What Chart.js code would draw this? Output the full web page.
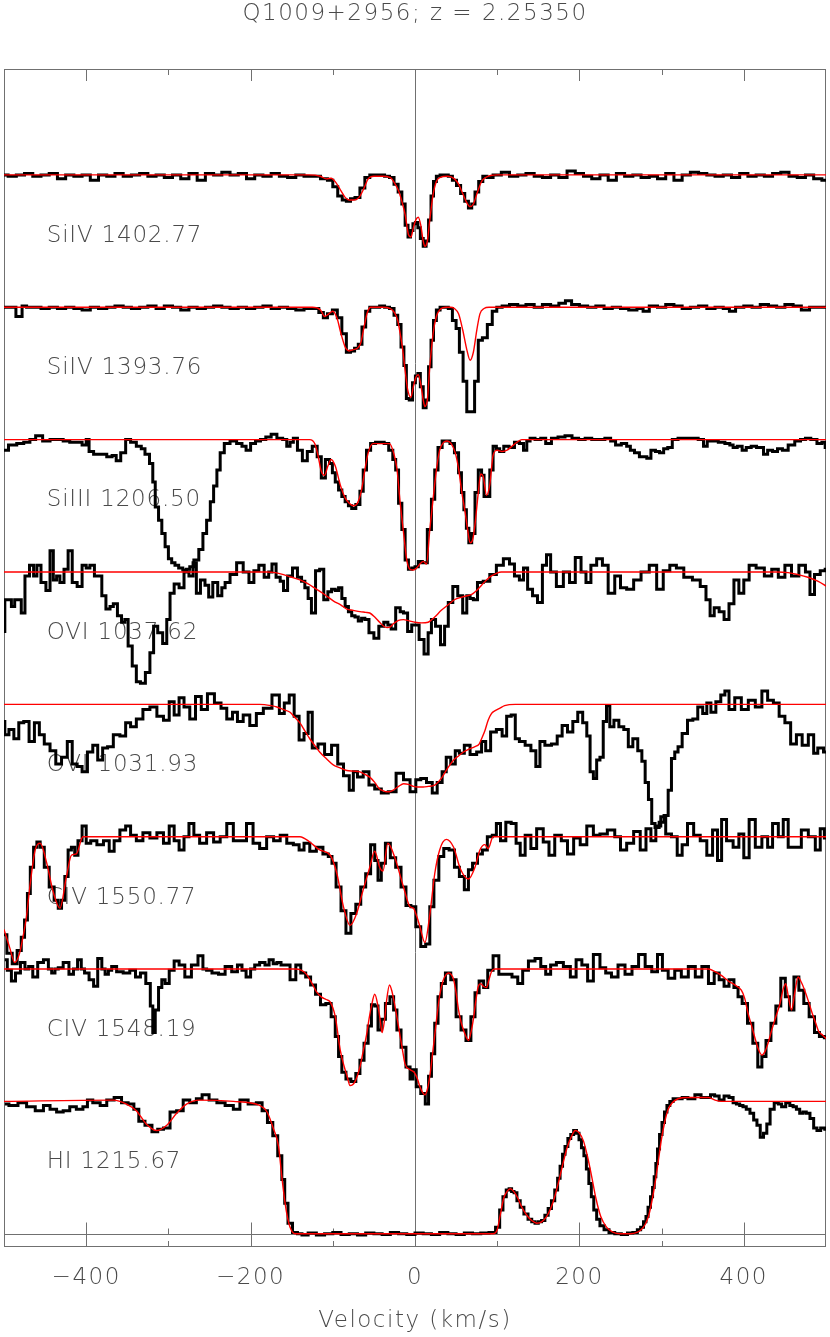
<!DOCTYPE html>
<html lang="en">
<head>
  <meta charset="UTF-8" />
  <title>Q1009+2956 velocity plot</title>
  <script src="https://cdn.jsdelivr.net/npm/chart.js"></script>
  <style>
    body {
      margin: 0;
      background: #ffffff;
    }
    #wrap {
      width: 830px;
      height: 1337px;
    }
  </style>
</head>
<body>

<div id="wrap">
  <canvas id="velChart" width="830" height="1337"></canvas>
</div>

<script>
  // line labels and vertical offsets (top to bottom)
  const lineNames = ['SiIV 1402.77', 'SiIV 1393.76', 'SiIII 1206.50', 'OVI 1037.62',
                     'OVI 1031.93', 'CIV 1550.77', 'CIV 1548.19', 'HI 1215.67'];
  const offsets = [7, 6, 5, 4, 3, 2, 1, 0];
  const tickLabelValues = [-400, -200, 0, 200, 400];
  const tickMarkValues = [-400, -300, -200, -100, 0, 100, 200, 300, 400];

  // SiIV 1402.77
  const siiv1402V = [-500,-490,-480,-470,-460,-450,-440,-430,-420,-410,
    -400,-390,-380,-370,-360,-350,-340,-330,-320,-310,
    -300,-290,-280,-270,-260,-250,-240,-230,-220,-210,
    -200,-190,-180,-170,-160,-150,-140,-130,-120,-110,
    -103,-97,-91,-86,-81,-76,-70,-64,-58,-52,
    -46,-40,-34,-28,-23,-18,-14,-10,-7,-4,
    -1,2,5,8,12,15,18,21,24,28,
    33,38,43,48,53,58,63,67,71,75,
    80,85,90,100,110,120,130,140,150,160,
    170,180,190,200,210,220,230,240,250,260,
    270,280,290,300,310,320,330,340,350,360,
    370,380,390,400,410,420,430,440,450,460,
    470,480,490,500];
  const siiv1402F = [1.0,0.99,1.0,1.01,0.99,1.0,1.01,0.97,1.0,0.99,
    1.0,0.96,1.0,0.99,1.01,0.99,1.0,1.01,0.99,1.0,
    0.98,1.0,0.97,1.01,0.96,1.01,1.0,1.02,1.0,1.01,
    0.97,1.0,0.99,1.01,0.99,0.98,1.0,0.99,0.99,0.97,
    0.96,0.91,0.84,0.81,0.8,0.82,0.83,0.9,0.98,1.0,
    1.0,1.0,0.99,0.98,0.93,0.87,0.78,0.62,0.53,0.58,
    0.63,0.64,0.6,0.52,0.46,0.5,0.66,0.84,0.95,0.99,
    1.0,1.0,0.99,0.96,0.92,0.86,0.8,0.75,0.78,0.87,
    0.95,0.99,0.98,1.0,1.02,0.99,1.0,1.01,0.99,0.98,
    1.0,0.98,1.03,1.01,0.99,0.97,1.0,0.96,1.01,0.99,
    1.0,0.98,0.99,0.97,1.01,0.96,1.0,1.02,1.01,1.0,
    0.99,1.0,0.98,1.01,0.99,1.0,0.99,1.01,1.02,0.99,
    0.98,1.0,0.97,0.96];
  const siiv1402MV = [-500,-130,-115,-108,-102,-96,-90,-85,-80,-74,
    -68,-62,-57,-50,-40,-30,-25,-20,-16,-12,
    -8,-5,-2,1,4,7,10,12,15,18,
    22,26,30,40,48,53,58,63,67,71,
    76,81,86,92,100,500];
  const siiv1402MF = [1,1,0.99,0.97,0.975,0.94,0.88,0.83,0.81,0.81,
    0.83,0.9,0.97,0.99,0.99,0.98,0.94,0.88,0.8,0.7,
    0.55,0.53,0.6,0.66,0.68,0.62,0.5,0.46,0.5,0.66,
    0.85,0.95,0.98,0.99,0.97,0.93,0.86,0.79,0.76,0.78,
    0.87,0.95,0.98,0.995,1,1];

  // SiIV 1393.76
  const siiv1393V = [-500,-490,-481,-475,-470,-460,-450,-440,-430,-420,
    -410,-400,-390,-380,-370,-360,-350,-340,-330,-320,
    -310,-300,-290,-280,-270,-260,-250,-240,-230,-220,
    -210,-200,-190,-180,-170,-160,-150,-140,-130,-120,
    -114,-109,-104,-97,-92,-86,-81,-76,-71,-67,
    -62,-58,-52,-46,-40,-34,-28,-23,-19,-15,
    -12,-9,-5,-1,2,5,8,12,15,18,
    21,24,28,33,38,43,48,52,56,61,
    65,70,75,79,85,91,97,102,110,120,
    130,140,150,160,170,180,186,195,205,215,
    225,235,245,255,265,275,280,290,300,310,
    320,330,340,350,360,370,380,385,395,405,
    415,425,435,445,455,465,475,485,495,500];
  const siiv1393F = [1.0,1.0,0.93,1.01,1.0,1.0,0.99,1.0,0.99,1.0,
    0.99,0.98,1.0,0.99,1.0,1.01,1.0,0.99,1.0,1.01,
    0.99,1.01,1.0,0.98,1.0,0.99,1.0,1.01,1.0,0.99,
    1.0,0.99,1.0,1.01,0.99,1.0,0.99,0.98,0.99,0.99,
    0.96,0.92,0.95,0.98,0.92,0.8,0.66,0.67,0.69,0.72,
    0.85,0.97,1.0,1.0,1.01,1.0,0.99,0.94,0.87,0.7,
    0.56,0.31,0.3,0.43,0.48,0.5,0.4,0.24,0.3,0.55,
    0.75,0.9,0.98,1.0,1.0,0.99,0.9,0.84,0.66,0.44,
    0.21,0.21,0.44,0.75,0.77,0.87,0.97,1.0,1.01,1.02,
    1.01,1.02,1.0,1.02,1.01,1.03,1.05,1.02,1.01,1.0,
    1.01,0.99,1.0,0.99,0.98,0.99,0.97,1.01,1.0,1.02,
    1.01,0.99,1.0,1.01,0.99,1.0,0.99,0.97,1.0,1.01,
    1.0,1.02,1.01,1.0,1.02,1.01,0.98,1.0,1.0,1.0];
  const siiv1393MV = [-500,-125,-115,-110,-105,-100,-95,-90,-85,-80,
    -75,-70,-66,-62,-58,-54,-40,-30,-25,-21,
    -18,-15,-12,-9,-5,-2,1,4,7,10,
    12,15,18,22,26,30,38,43,48,53,
    58,63,67,71,75,79,84,90,500];
  const siiv1393MF = [1,1,0.98,0.93,0.95,0.97,0.92,0.8,0.7,0.67,
    0.68,0.69,0.73,0.85,0.96,1.0,1.0,0.99,0.96,0.9,
    0.8,0.68,0.52,0.38,0.32,0.4,0.47,0.49,0.42,0.3,
    0.25,0.3,0.55,0.8,0.93,0.98,1.0,1.0,0.99,0.95,
    0.83,0.68,0.6,0.66,0.82,0.95,0.99,1.0,1.0];

  // SiIII 1206.50
  const siiiiV = [-500,-489,-480,-472,-465,-458,-448,-440,-432,-424,
    -416,-408,-402,-398,-395,-387,-379,-371,-366,-361,
    -355,-349,-343,-335,-331,-326,-320,-318,-314,-310,
    -306,-302,-298,-294,-290,-285,-280,-276,-272,-266,
    -260,-256,-251,-247,-243,-239,-235,-229,-221,-213,
    -208,-203,-197,-191,-185,-178,-172,-164,-158,-154,
    -150,-146,-140,-134,-128,-122,-116,-112,-106,-102,
    -99,-95,-91,-87,-83,-79,-75,-69,-65,-61,
    -57,-51,-45,-40,-35,-29,-25,-22,-18,-14,
    -10,-6,-2,2,6,12,18,22,26,30,
    36,40,45,51,55,58,61,64,67,71,
    75,79,83,85,89,93,97,101,105,111,
    118,124,130,134,138,142,150,156,162,170,
    178,187,195,203,211,219,227,235,241,247,
    255,260,264,270,276,280,284,290,295,300,
    305,310,316,324,332,340,349,353,358,365,
    373,381,385,389,395,401,405,413,418,422,
    426,432,438,444,450,458,466,472,478,485,
    493,497,501];
  const siiiiF = [0.92,0.96,0.97,0.98,1.0,1.03,0.99,1.0,1.0,0.99,
    0.98,0.98,0.96,1.0,0.91,0.89,0.89,0.87,0.88,0.84,
    0.9,1.0,0.98,0.95,0.93,0.89,0.82,0.68,0.49,0.39,
    0.29,0.19,0.1,0.07,0.05,0.03,0.015,0.02,0.04,0.09,
    0.17,0.29,0.39,0.53,0.65,0.77,0.9,0.97,0.99,0.97,
    0.95,0.92,0.97,0.99,1.0,1.02,1.04,1.01,1.0,0.95,
    0.98,1.01,0.92,0.84,0.91,0.95,0.87,0.71,0.85,0.82,
    0.75,0.68,0.62,0.57,0.53,0.5,0.48,0.51,0.61,0.77,
    0.92,0.97,0.98,0.98,0.97,0.92,0.85,0.77,0.52,0.32,
    0.09,0.02,0.03,0.04,0.08,0.07,0.32,0.55,0.77,0.94,
    0.99,0.99,0.97,0.9,0.75,0.6,0.47,0.33,0.22,0.29,
    0.6,0.77,0.73,0.57,0.57,0.77,0.95,0.93,0.91,0.95,
    0.94,0.98,0.97,0.92,0.99,1.01,1.0,1.01,0.97,1.01,
    1.02,1.03,1.01,1.0,1.01,1.0,1.0,1.01,0.99,0.96,
    0.97,0.95,0.92,0.9,0.87,0.87,0.86,0.92,0.91,0.9,
    0.93,0.94,1.0,1.01,1.01,1.01,1.0,0.95,0.99,0.99,
    0.98,0.97,0.96,0.94,0.95,0.92,0.94,0.95,0.94,0.94,
    0.89,0.92,0.91,0.93,0.92,0.96,0.99,1.0,1.01,1.0,
    0.97,0.98,0.94];
  const siiiiMV = [-500,-128,-122,-118,-114,-110,-106,-102,-97,-91,
    -85,-80,-75,-70,-65,-61,-57,-51,-40,-31,
    -26,-22,-18,-14,-10,-6,-2,2,6,10,
    14,18,22,26,30,35,39,44,49,53,
    57,61,64,67,70,73,77,80,83,87,
    91,95,100,106,112,118,124,130,500];
  const siiiiMF = [1,1,0.97,0.88,0.76,0.73,0.8,0.85,0.8,0.66,
    0.56,0.52,0.5,0.52,0.62,0.77,0.9,0.97,0.97,0.97,
    0.9,0.78,0.52,0.3,0.09,0.02,0.015,0.03,0.06,0.08,
    0.06,0.32,0.55,0.77,0.92,0.98,0.99,0.97,0.9,0.78,
    0.6,0.45,0.32,0.22,0.24,0.36,0.6,0.74,0.72,0.58,
    0.66,0.88,0.92,0.91,0.92,0.95,0.98,1,1];

  // OVI 1037.62
  const ovi1037V = [-501,-497,-493,-489,-485,-481,-477,-472,-466,-462,
    -458,-452,-446,-442,-438,-434,-430,-424,-420,-414,
    -408,-402,-398,-393,-387,-383,-379,-373,-369,-365,
    -359,-355,-351,-347,-341,-337,-331,-325,-320,-316,
    -310,-304,-300,-296,-290,-284,-278,-272,-268,-264,
    -258,-253,-249,-243,-237,-233,-229,-221,-213,-205,
    -199,-193,-187,-180,-176,-172,-166,-162,-158,-152,
    -146,-140,-136,-132,-128,-124,-118,-114,-108,-104,
    -99,-95,-91,-87,-83,-79,-75,-71,-67,-63,
    -59,-53,-47,-41,-35,-31,-27,-20,-16,-12,
    -6,-2,2,8,14,18,22,28,34,38,
    43,49,55,61,65,69,73,79,87,95,
    103,112,118,124,130,134,140,146,152,158,
    162,168,176,185,191,199,205,211,217,225,
    231,239,247,253,262,270,280,290,298,306,
    314,322,332,343,351,357,361,367,373,379,
    385,391,397,403,410,420,430,438,446,454,
    462,472,478,483,489,497,501];
  const ovi1037F = [0.55,0.79,0.79,0.74,0.79,0.79,0.69,0.97,1.05,0.97,
    1.05,0.92,0.86,1.16,0.94,0.97,0.92,1.02,1.16,0.92,
    0.89,1.05,1.03,1.05,0.97,0.97,0.82,0.72,0.74,0.76,
    0.67,0.62,0.64,0.44,0.29,0.17,0.16,0.24,0.39,0.59,
    0.54,0.46,0.64,0.84,0.91,0.88,1.0,0.97,1.07,0.84,
    0.94,0.9,0.81,0.92,0.82,0.88,0.92,0.98,1.07,1.0,
    0.92,1.01,1.05,0.96,1.0,1.06,0.96,0.93,0.86,0.97,
    1.03,0.96,0.93,0.88,0.8,0.69,1.01,1.02,0.79,0.85,
    0.87,0.86,0.88,0.8,0.74,0.7,0.67,0.66,0.63,0.65,
    0.64,0.54,0.5,0.59,0.62,0.6,0.57,0.73,0.7,0.69,
    0.55,0.6,0.6,0.49,0.38,0.54,0.64,0.59,0.45,0.59,
    0.77,0.89,0.82,0.69,0.82,0.8,0.79,0.92,0.93,0.98,
    1.05,1.1,1.06,0.97,0.94,1.03,0.87,0.82,0.77,1.05,
    1.13,1.0,0.89,1.0,0.92,1.11,1.0,0.92,1.05,1.1,
    1.05,0.84,0.97,0.88,0.87,0.94,1.0,1.05,0.87,1.01,
    1.05,1.03,0.96,0.94,0.89,0.79,0.67,0.73,0.7,0.64,
    0.76,0.94,0.84,0.94,1.05,1.03,0.97,1.02,0.96,1.05,
    0.97,1.05,1.0,0.83,0.98,1.01,1.02];
  const ovi1037MV = [-500,-180,-170,-160,-150,-140,-130,-120,-110,-99,
    -90,-83,-75,-67,-60,-55,-49,-43,-38,-34,
    -30,-26,-20,-14,-7,0,8,16,24,32,
    40,48,57,63,69,75,81,87,93,99,
    105,114,440,454,466,478,490,501];
  const ovi1037MF = [1,1,0.995,0.98,0.96,0.94,0.91,0.87,0.83,0.78,
    0.75,0.72,0.71,0.7,0.695,0.69,0.66,0.62,0.59,0.58,
    0.585,0.61,0.635,0.64,0.63,0.62,0.615,0.62,0.66,0.71,
    0.75,0.79,0.81,0.82,0.83,0.86,0.9,0.94,0.97,0.99,
    1,1,1,0.995,0.98,0.96,0.93,0.89];

  // OVI 1031.93
  const ovi1031V = [-501,-497,-491,-485,-479,-473,-466,-460,-454,-448,
    -440,-434,-426,-420,-414,-408,-402,-395,-389,-383,
    -377,-371,-363,-355,-349,-343,-335,-327,-318,-310,
    -302,-296,-290,-284,-278,-270,-264,-256,-249,-239,
    -233,-225,-219,-213,-205,-197,-189,-180,-168,-162,
    -156,-150,-144,-138,-132,-128,-122,-114,-106,-97,
    -91,-83,-77,-73,-67,-59,-53,-45,-37,-28,
    -18,-10,-2,4,10,18,24,30,36,40,
    47,51,57,63,71,79,83,89,95,103,
    109,114,120,124,130,138,144,150,154,162,
    170,176,182,189,195,201,207,211,215,219,
    223,227,231,235,239,245,251,257,262,268,
    274,278,282,286,290,294,300,306,310,314,
    318,322,328,335,341,347,353,357,363,369,
    375,379,385,393,401,410,418,426,432,440,
    446,454,460,468,474,483,487,493,501];
  const ovi1031F = [0.87,0.77,0.81,0.74,0.86,0.87,0.72,0.86,0.77,0.7,
    0.65,0.55,0.6,0.72,0.55,0.53,0.49,0.64,0.69,0.58,
    0.67,0.68,0.77,0.76,0.86,0.83,0.89,0.96,0.98,0.91,
    0.88,1.02,0.92,1.05,0.98,0.89,1.06,0.96,1.08,1.01,
    0.97,0.89,0.94,0.87,0.92,0.84,0.93,0.97,1.07,0.93,
    1.01,1.07,0.91,0.73,0.78,0.94,0.67,0.7,0.62,0.69,
    0.55,0.46,0.35,0.49,0.45,0.49,0.39,0.36,0.33,0.34,
    0.48,0.43,0.34,0.43,0.44,0.41,0.33,0.41,0.49,0.6,
    0.55,0.65,0.63,0.69,0.62,0.64,0.72,0.65,0.79,0.81,
    0.76,0.91,0.92,0.74,0.72,0.69,0.65,0.53,0.72,0.69,
    0.7,0.76,0.84,0.79,0.87,0.94,0.86,0.76,0.49,0.44,
    0.58,0.6,0.87,0.99,0.83,0.88,0.83,0.81,0.68,0.74,
    0.65,0.57,0.41,0.28,0.1,0.07,0.11,0.16,0.35,0.59,
    0.64,0.68,0.78,0.88,0.89,0.98,0.93,1.01,0.94,1.02,
    1.07,1.1,0.96,1.05,0.96,1.03,0.98,1.1,1.03,1.01,
    0.91,0.86,0.7,0.77,0.69,0.77,0.63,0.67,0.64];
  const ovi1031MV = [-500,-189,-175,-168,-160,-152,-146,-140,-134,-128,
    -122,-116,-108,-99,-91,-83,-75,-67,-61,-55,
    -49,-43,-38,-35,-31,-27,-20,-14,-8,-2,
    4,10,16,24,32,40,47,53,59,65,
    73,78,81,85,89,93,97,103,109,122,
    500];
  const ovi1031MF = [1,1,0.99,0.98,0.96,0.94,0.9,0.86,0.8,0.74,
    0.69,0.64,0.59,0.54,0.52,0.5,0.495,0.49,0.47,0.45,
    0.41,0.36,0.345,0.34,0.34,0.35,0.38,0.4,0.395,0.38,
    0.375,0.375,0.38,0.39,0.44,0.52,0.58,0.61,0.64,0.66,
    0.68,0.7,0.74,0.8,0.88,0.93,0.95,0.97,0.99,1.0,
    1];

  // CIV 1550.77
  const civ1550V = [-500,-493,-487,-481,-477,-473,-470,-466,-462,-458,
    -454,-448,-442,-436,-432,-428,-424,-420,-416,-412,
    -408,-402,-398,-391,-383,-375,-369,-363,-355,-349,
    -343,-335,-327,-318,-310,-302,-296,-290,-284,-278,
    -272,-266,-258,-249,-241,-233,-225,-217,-209,-201,
    -193,-185,-176,-168,-160,-152,-144,-138,-132,-124,
    -116,-108,-103,-99,-93,-87,-81,-75,-69,-63,
    -57,-51,-47,-43,-39,-33,-27,-20,-14,-8,
    -2,4,10,16,20,26,32,38,45,51,
    57,63,67,73,79,85,91,97,101,107,
    114,120,126,130,138,144,152,160,166,174,
    182,189,197,205,213,221,229,239,247,253,
    262,270,278,284,290,296,302,308,316,322,
    328,335,343,351,359,365,371,375,383,391,
    397,403,410,418,426,432,438,446,450,458,
    466,474,483,491,495,501];
  const civ1550F = [0.26,0.12,0.04,0.14,0.24,0.37,0.57,0.77,0.92,0.96,
    0.92,0.77,0.62,0.52,0.46,0.52,0.7,0.9,0.92,0.86,
    0.97,1.08,0.95,0.97,0.94,0.97,0.89,0.97,1.05,1.08,
    1.01,0.97,1.03,0.99,1.03,0.95,1.08,0.97,0.9,1.0,
    1.1,1.01,0.95,1.03,0.96,1.0,1.1,0.97,0.97,1.1,
    0.95,0.91,1.0,0.97,1.01,0.95,0.94,0.9,0.95,0.89,
    0.92,0.87,0.85,0.8,0.62,0.44,0.27,0.42,0.49,0.62,
    0.72,0.94,0.82,0.67,0.8,0.95,0.84,0.77,0.62,0.48,
    0.47,0.32,0.17,0.19,0.47,0.67,0.85,0.91,0.9,0.77,
    0.7,0.6,0.75,0.8,0.87,0.9,1.0,1.01,1.1,0.97,
    1.11,1.1,0.95,0.86,1.01,0.91,1.06,0.96,0.86,1.01,
    0.97,0.87,0.99,0.94,1.08,1.01,1.02,1.05,1.0,0.9,
    0.95,1.04,0.9,1.06,0.97,1.08,1.15,1.02,1.0,0.86,
    0.94,1.1,1.01,0.97,0.86,1.05,0.82,1.13,0.97,0.92,
    1.02,0.84,1.13,0.92,1.0,0.92,1.1,1.0,1.13,0.92,
    0.92,1.05,1.0,0.9,1.06,0.99];
  const civ1550MV = [-500,-493,-487,-481,-477,-473,-468,-462,-456,-448,
    -440,-432,-424,-418,-412,-404,-140,-128,-116,-103,
    -95,-87,-79,-71,-63,-55,-49,-43,-39,-33,
    -25,-14,-6,-2,2,6,12,18,24,30,
    38,47,55,65,73,79,85,89,95,500];
  const civ1550MF = [0.3,0.16,0.05,0.12,0.24,0.38,0.65,0.9,0.95,0.8,
    0.58,0.46,0.7,0.86,0.87,1.0,1.0,0.96,0.9,0.86,
    0.72,0.47,0.33,0.42,0.6,0.77,0.89,0.77,0.74,0.95,
    0.85,0.62,0.47,0.46,0.4,0.32,0.2,0.41,0.72,0.9,
    0.98,0.92,0.76,0.68,0.77,0.9,0.94,0.91,1.0,1.0];

  // CIV 1548.19
  const civ1548V = [-499,-493,-489,-483,-477,-472,-468,-462,-456,-448,
    -444,-440,-436,-432,-424,-418,-413,-408,-404,-400,
    -393,-389,-383,-379,-375,-371,-367,-359,-351,-343,
    -337,-331,-324,-320,-318,-314,-310,-306,-302,-296,
    -290,-284,-276,-268,-260,-256,-251,-243,-235,-227,
    -219,-213,-208,-203,-197,-193,-185,-180,-175,-170,
    -166,-160,-156,-148,-142,-136,-130,-124,-118,-112,
    -105,-99,-95,-91,-87,-81,-75,-69,-65,-59,
    -55,-51,-47,-43,-39,-33,-28,-24,-20,-14,
    -8,-4,-1,4,10,15,18,22,26,30,
    34,40,47,53,59,65,71,75,81,86,
    91,99,105,114,122,128,134,142,150,156,
    162,168,176,185,193,199,207,213,221,229,
    235,243,251,260,268,276,284,292,298,304,
    312,320,328,337,345,353,361,367,373,379,
    385,391,395,401,408,414,420,424,430,436,
    442,448,453,458,464,470,476,483,489,495,
    501];
  const civ1548F = [1.07,0.99,0.91,0.97,1.05,1.0,1.02,0.94,1.05,1.07,
    1.0,0.97,1.0,1.01,1.05,0.96,1.0,1.07,1.0,0.97,
    0.92,0.87,1.08,1.0,0.96,0.99,1.02,0.98,0.97,0.99,
    0.94,0.97,0.89,0.72,0.52,0.69,0.86,0.92,0.89,0.99,
    1.06,1.03,0.94,1.03,1.1,1.0,0.99,0.97,0.96,1.02,
    0.98,1.03,0.99,0.94,1.0,1.03,1.05,1.03,1.07,1.04,
    1.05,1.03,1.03,0.92,1.03,0.97,0.94,0.88,0.81,0.73,
    0.74,0.64,0.49,0.34,0.22,0.17,0.15,0.21,0.31,0.44,
    0.57,0.73,0.72,0.54,0.62,0.74,0.79,0.69,0.54,0.41,
    0.26,0.17,0.24,0.11,0.06,-0.02,0.19,0.36,0.59,0.79,
    0.89,0.97,0.92,0.64,0.54,0.46,0.64,0.82,0.91,0.86,
    0.99,1.1,0.96,0.96,0.94,0.89,0.99,1.06,1.08,1.02,
    0.96,1.03,1.05,1.02,0.94,1.07,1.03,0.91,1.11,1.01,
    0.97,0.94,1.03,0.96,1.02,1.11,1.02,0.98,1.11,0.99,
    0.93,0.99,0.94,1.02,0.94,1.02,0.89,0.97,0.92,0.87,
    0.92,0.86,0.79,0.74,0.59,0.44,0.26,0.34,0.46,0.59,
    0.72,0.93,0.79,0.69,0.94,0.84,0.74,0.64,0.52,0.49,
    0.48];
  const civ1548MV = [-500,-146,-138,-132,-126,-120,-114,-108,-103,-97,
    -91,-86,-83,-79,-73,-67,-63,-59,-56,-53,
    -49,-45,-42,-40,-37,-35,-31,-28,-25,-21,
    -18,-15,-12,-6,-1,3,6,9,12,15,
    18,21,24,27,30,34,38,41,44,47,
    50,53,56,59,62,65,68,71,74,77,
    80,83,87,90,93,97,357,365,373,381,
    389,397,401,405,410,414,418,422,426,430,
    434,439,444,448,451,454,458,462,466,470,
    474,479,483,487,491,496,501];
  const civ1548MF = [1,1,0.99,0.96,0.9,0.83,0.79,0.77,0.75,0.64,
    0.39,0.26,0.2,0.12,0.15,0.26,0.38,0.5,0.62,0.72,
    0.81,0.72,0.6,0.52,0.62,0.74,0.88,0.83,0.74,0.6,
    0.49,0.38,0.28,0.24,0.22,0.17,0.11,0.07,0.05,0.09,
    0.19,0.34,0.5,0.66,0.8,0.91,0.96,0.97,0.96,0.92,
    0.82,0.69,0.6,0.54,0.49,0.46,0.52,0.62,0.76,0.87,
    0.89,0.87,0.86,0.92,0.98,1.0,1.0,0.98,0.95,0.91,
    0.88,0.84,0.78,0.67,0.56,0.47,0.39,0.35,0.38,0.45,
    0.54,0.64,0.74,0.85,0.89,0.8,0.69,0.82,0.94,0.9,
    0.84,0.75,0.67,0.6,0.53,0.5,0.47];

  // HI 1215.67
  const hiV = [-499,-489,-477,-468,-456,-448,-440,-432,-424,-416,
    -408,-400,-397,-387,-379,-371,-361,-353,-345,-339,
    -333,-324,-316,-310,-302,-294,-286,-278,-270,-262,
    -256,-245,-237,-225,-217,-209,-197,-189,-183,-176,
    -170,-164,-160,-157,-152,-146,-140,-135,-125,-115,
    -105,-95,-85,-75,-65,-55,-45,-35,-25,-15,
    -5,5,15,25,35,45,55,65,75,85,
    95,101,105,109,113,116,119,122,126,130,
    135,140,144,148,152,156,160,164,168,172,
    175,178,181,184,188,191,195,198,201,204,
    207,210,213,216,219,223,227,233,239,247,
    255,262,268,273,276,280,282,285,288,290,
    292,294,296,299,302,305,308,312,316,322,
    328,336,345,351,357,362,367,373,379,385,
    389,393,397,401,405,410,414,418,422,426,
    430,434,440,444,448,454,458,462,466,470,
    474,478,483,487,491,496,501];
  const hiF = [0.98,0.97,0.99,0.96,0.93,0.97,0.94,0.92,0.93,0.96,
    0.94,0.96,1.01,0.99,0.97,1.01,1.03,0.99,0.98,0.94,
    0.85,0.82,0.77,0.79,0.8,0.92,0.93,1.01,0.99,1.02,
    1.05,1.01,0.99,0.97,0.94,1.01,0.98,0.99,0.93,0.84,
    0.74,0.59,0.41,0.23,0.08,0.01,0.0,-0.01,0.005,-0.01,
    0.0,0.01,-0.005,0.0,-0.01,0.005,0.0,-0.005,0.01,0.0,
    -0.005,0.005,0.0,-0.005,0.01,0.0,-0.005,0.005,0.0,0.005,
    0.01,0.05,0.18,0.28,0.33,0.34,0.32,0.31,0.25,0.2,
    0.15,0.11,0.09,0.08,0.09,0.1,0.14,0.19,0.25,0.33,
    0.42,0.51,0.6,0.66,0.72,0.75,0.78,0.76,0.71,0.65,
    0.59,0.49,0.38,0.28,0.18,0.11,0.06,0.03,0.01,0.0,
    -0.005,0.005,0.01,0.03,0.05,0.09,0.13,0.2,0.28,0.35,
    0.43,0.53,0.64,0.75,0.84,0.92,0.97,1.0,1.02,1.02,
    1.03,1.02,1.05,1.03,1.03,1.05,1.04,1.01,1.04,1.03,
    0.99,0.98,0.97,0.96,0.94,0.91,0.86,0.82,0.73,0.76,
    0.83,0.94,0.99,0.98,0.96,0.99,0.97,0.96,0.94,0.91,
    0.92,0.91,0.87,0.8,0.78,0.8,0.79];
  const hiMV = [-500,-367,-351,-339,-327,-314,-302,-290,-278,-262,
    -221,-189,-180,-172,-166,-162,-158,-155,-152,-146,
    -140,95,100,104,108,112,116,120,125,130,
    136,142,148,154,160,165,170,175,180,185,
    190,195,200,205,210,215,220,226,233,240,
    250,262,270,275,280,284,288,292,296,300,
    304,308,313,320,332,357,365,373,500];
  const hiMF = [1,1.01,0.98,0.93,0.83,0.78,0.82,0.91,0.98,1.01,
    1.0,0.97,0.92,0.79,0.66,0.43,0.23,0.12,0.05,0.0,
    0.0,0.0,0.03,0.15,0.27,0.32,0.34,0.32,0.27,0.2,
    0.14,0.1,0.08,0.09,0.13,0.19,0.28,0.4,0.53,0.65,
    0.73,0.78,0.76,0.7,0.58,0.43,0.27,0.13,0.05,0.015,
    0.0,0.0,0.01,0.03,0.07,0.13,0.24,0.38,0.55,0.72,
    0.85,0.94,0.99,1.02,1.03,1.03,1.01,1.0,1.0];

  const spectra = [
    [siiv1402V, siiv1402F, siiv1402MV, siiv1402MF],
    [siiv1393V, siiv1393F, siiv1393MV, siiv1393MF],
    [siiiiV, siiiiF, siiiiMV, siiiiMF],
    [ovi1037V, ovi1037F, ovi1037MV, ovi1037MF],
    [ovi1031V, ovi1031F, ovi1031MV, ovi1031MF],
    [civ1550V, civ1550F, civ1550MV, civ1550MF],
    [civ1548V, civ1548F, civ1548MV, civ1548MF],
    [hiV, hiF, hiMV, hiMF]
  ];

  const labelVel = -448;
  const labelRise = 0.54;
  const fontFamily = "'DejaVu Sans', 'Liberation Sans', sans-serif";
  const textColor = '#4a4a4a';
  const axisColor = '#707070';

  const datasets = [];
  spectra.forEach(function (s, i) {
    const off = offsets[i];
    datasets.push({
      label: lineNames[i] + ' fit',
      data: s[2].map((v, j) => ({ x: v, y: s[3][j] + off })),
      borderColor: '#ff0000',
      borderWidth: 1.4,
      pointRadius: 0,
      tension: 0.4,
      cubicInterpolationMode: 'monotone',
      order: 0
    });
    datasets.push({
      label: lineNames[i],
      data: s[0].map((v, j) => ({ x: v, y: s[1][j] + off })),
      borderColor: '#000000',
      borderWidth: 3,
      pointRadius: 0,
      stepped: 'middle',
      order: 1
    });
  });

  // frame, inner tick marks, zero lines and line labels
  const decor = {
    id: 'decor',
    beforeDraw(chart) {
      chart.ctx.letterSpacing = '1.5px';
    },
    beforeDatasetsDraw(chart) {
      const ctx = chart.ctx;
      const a = chart.chartArea;
      const x = chart.scales.x;
      const y = chart.scales.y;
      ctx.save();
      ctx.strokeStyle = axisColor;
      ctx.lineWidth = 1;
      ctx.strokeRect(a.left + 0.5, a.top + 0.5, a.right - a.left - 1, a.bottom - a.top - 1);

      const y0 = Math.round(y.getPixelForValue(0)) + 0.5;
      const x0 = Math.round(x.getPixelForValue(0)) + 0.5;
      ctx.beginPath();
      ctx.moveTo(a.left, y0); ctx.lineTo(a.right, y0);
      ctx.moveTo(x0, a.top); ctx.lineTo(x0, a.bottom);
      tickMarkValues.forEach(function (v) {
        const px = Math.round(x.getPixelForValue(v)) + 0.5;
        const len = v % 200 === 0 ? 12 : 6;
        ctx.moveTo(px, a.top); ctx.lineTo(px, a.top + len);
        ctx.moveTo(px, a.bottom); ctx.lineTo(px, a.bottom - len);
        ctx.moveTo(px, y0); ctx.lineTo(px, y0 - len);
      });
      ctx.stroke();

      ctx.letterSpacing = '0.8px';
      ctx.font = '200 23px ' + fontFamily;
      ctx.fillStyle = textColor;
      ctx.textAlign = 'left';
      ctx.textBaseline = 'middle';
      lineNames.forEach(function (name, i) {
        ctx.fillText(name, x.getPixelForValue(labelVel), y.getPixelForValue(offsets[i] + labelRise));
      });
      ctx.restore();
    },
    afterDraw(chart) {
      chart.ctx.letterSpacing = '0px';
    }
  };

  new Chart(document.getElementById('velChart'), {
    type: 'line',
    data: { datasets: datasets },
    options: {
      responsive: false,
      animation: false,
      devicePixelRatio: 1,
      layout: { padding: { left: 4, right: 4, top: 0, bottom: 0 } },
      plugins: {
        legend: { display: false },
        tooltip: { enabled: false },
        title: {
          display: true,
          text: 'Q1009+2956; z = 2.25350',
          color: textColor,
          font: { family: fontFamily, size: 23, weight: 200, lineHeight: 1 },
          padding: { top: 3, bottom: 43 }
        }
      },
      scales: {
        x: {
          type: 'linear',
          position: 'bottom',
          min: -500,
          max: 500,
          grid: { display: false, drawTicks: false },
          border: { display: false },
          afterBuildTicks(scale) {
            scale.ticks = tickLabelValues.map(v => ({ value: v }));
          },
          afterFit(scale) {
            scale.height = 90;
          },
          ticks: {
            autoSkip: false,
            maxRotation: 0,
            padding: 17,
            color: textColor,
            font: { family: fontFamily, size: 23, weight: 200, lineHeight: 1.2 },
            callback: v => (v < 0 ? '\u2212' + Math.abs(v) : String(v))
          },
          title: {
            display: true,
            text: 'Velocity (km/s)',
            color: textColor,
            font: { family: fontFamily, size: 23, weight: 200, lineHeight: 1.2 },
            padding: { top: 0, bottom: 2 }
          }
        },
        y: {
          type: 'linear',
          display: false,
          min: -0.1,
          max: 8.8
        }
      }
    },
    plugins: [decor]
  });
</script>

</body>
</html>
